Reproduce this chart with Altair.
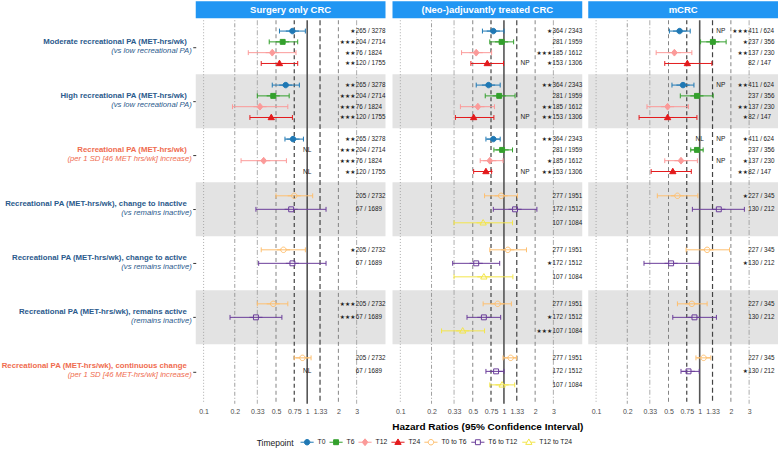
import altair as alt
import pandas as pd

FONT = "Liberation Sans"

PANELS = ["Surgery only CRC", "(Neo-)adjuvantly treated CRC", "mCRC"]
TIMEPOINTS = ["T0", "T6", "T12", "T24", "T0 to T6", "T6 to T12", "T12 to T24"]
TP_COLORS = ["#1f78b4", "#33a02c", "#fb9a99", "#e31a1c", "#fdbf6f", "#6a3d9a", "#f3e54a"]
TP_FILLED = [True, True, True, True, False, False, False]

GROUP_LINE1 = [
    "Moderate recreational PA (MET-hrs/wk)",
    "High recreational PA (MET-hrs/wk)",
    "Recreational PA (MET-hrs/wk)",
    "Recreational PA (MET-hrs/wk), change to inactive",
    "Recreational PA (MET-hrs/wk), change to active",
    "Recreational PA (MET-hrs/wk), remains active",
    "Recreational PA (MET-hrs/wk), continuous change",
]
GROUP_LINE2 = [
    "(vs low recreational PA)",
    "(vs low recreational PA)",
    "(per 1 SD [46 MET hrs/wk] increase)",
    "(vs remains inactive)",
    "(vs remains inactive)",
    "(remains inactive)",
    "(per 1 SD [46 MET-hrs/wk] increase)",
]
GROUP_KIND = ["cat", "cat", "cont", "cat", "cat", "cat", "cont"]
KIND_COLORS = {"cat": "#2b5a8c", "cont": "#ef6c4f"}

# Hazard ratios and 95% CI per panel -> group -> timepoint row
HR = [
    [[0.72, 0.58, 0.46, 0.54], [0.62, 0.47, 0.35, 0.45], [0.73, None, 0.38, None],
     [0.75, 0.70, None], [0.59, 0.72, None], [0.47, 0.32, None], [0.90, None, None]],
    [[0.79, 0.95, 0.54, 0.69], [0.71, 0.90, 0.56, 0.51], [0.79, 0.96, 0.73, 0.67],
     [0.94, 1.28, 0.63], [1.09, 0.54, 0.64], [0.87, 0.64, 0.40], [1.16, 0.84, 0.96]],
    [[0.64, 1.34, 0.57, 0.76], [0.69, 0.94, 0.49, 0.49], [None, 0.94, 0.66, 0.55],
     [0.61, 1.53, None], [1.18, 0.53, None], [0.84, 0.89, None], [1.09, 0.78, None]],
]
LO = [
    [[0.54, 0.43, 0.27, 0.36], [0.46, 0.33, 0.19, 0.28], [0.61, None, 0.23, None],
     [0.50, 0.32, None], [0.36, 0.34, None], [0.33, 0.18, None], [0.75, None, None]],
    [[0.62, 0.73, 0.39, 0.48], [0.54, 0.66, 0.38, 0.34], [0.67, 0.80, 0.59, 0.51],
     [0.65, 0.79, 0.33], [0.73, 0.32, 0.33], [0.63, 0.44, 0.25], [0.98, 0.67, 0.73]],
    [[0.51, 1.02, 0.38, 0.46], [0.54, 0.65, 0.31, 0.26], [None, 0.82, 0.46, 0.34],
     [0.39, 0.85, None], [0.74, 0.29, None], [0.61, 0.55, None], [0.92, 0.66, None]],
]
HI = [
    [[0.96, 0.81, 0.78, 0.81], [0.84, 0.67, 0.65, 0.72], [0.92, None, 0.63, None],
     [1.13, 1.52, None], [0.96, 1.52, None], [0.65, 0.57, None], [1.09, None, None]],
    [[1.00, 1.24, 0.76, 0.99], [0.92, 1.28, 0.81, 0.80], [0.92, 1.21, 0.98, 0.76],
     [1.35, 2.08, 1.21], [1.65, 0.91, 1.22], [1.18, 0.93, 0.65], [1.32, 1.00, 1.27]],
    [[0.81, 1.80, 0.84, 1.31], [0.88, 1.35, 0.78, 0.94], [None, 1.08, 0.95, 0.83],
     [0.96, 2.70, None], [1.94, 0.99, None], [1.18, 1.45, None], [1.28, 0.99, None]],
]
STARS = [
    [["★", "★★★", "★★", "★★"], ["★★", "★★★", "★★★", "★★★"], ["★★", "★★★", "★★★", "★★"],
     ["", "", ""], ["★", "", ""], ["★★★", "★★★", ""], ["", "", ""]],
    [["★", "", "★★★", "★"], ["★★", "", "★★", "★★"], ["★★", "", "★", "★★"],
     ["", "", ""], ["", "★", ""], ["", "★", "★★★"], ["", "", ""]],
    [["★★★", "★", "★★", ""], ["★★", "", "★★", "★"], ["★", "", "★", "★★"],
     ["★", "", ""], ["", "★", ""], ["", "", ""], ["", "★", ""]],
]
COUNTS_LEVEL = [
    ["265 / 3278", "204 / 2714", "76 / 1824", "120 / 1755"],
    ["364 / 2343", "281 / 1959", "185 / 1612", "153 / 1306"],
    ["411 / 624", "237 / 356", "137 / 230", "82 / 147"],
]
COUNTS_CHANGE = [
    ["205 / 2732", "67 / 1689", ""],
    ["277 / 1951", "172 / 1512", "107 / 1084"],
    ["227 / 345", "130 / 212", ""],
]
# (panel, group, row) flagged as non-linear / non-proportional
NL_ROWS = [(0, 2, 1), (0, 2, 3), (0, 6, 1), (2, 2, 0)]
NP_ROWS = [(1, 0, 3), (1, 1, 3), (1, 2, 3), (2, 0, 0), (2, 1, 0), (2, 2, 0), (2, 2, 2)]

TICKS = [0.1, 0.2, 0.33, 0.5, 0.75, 1, 1.33, 2, 3]
REF_DASH = [[1, 2], [1, 2, 4, 2], [5, 2, 1, 2], [4, 3], [4, 3], [1, 0], [5, 3], [4, 3], [5, 2, 1, 2]]
REF_COLOR = ["#999999", "#888888", "#999999", "#777777", "#444444", "#555555", "#444444", "#777777", "#999999"]
REF_WIDTH = [0.8, 0.8, 0.8, 0.9, 1.2, 1.6, 1.2, 0.9, 0.8]

X_TITLE = "Hazard Ratios (95% Confidence Interval)"

LABEL_W = 192
PANEL_W = 190
H = 384
N_GROUPS = 7
CAP = 0.045

rows = []
for p, panel in enumerate(PANELS):
    for g in range(N_GROUPS):
        tps = TIMEPOINTS[:4] if g < 3 else TIMEPOINTS[4:]
        counts = COUNTS_LEVEL[p] if g < 3 else COUNTS_CHANGE[p]
        n = len(tps)
        for k, tp in enumerate(tps):
            yv = g + (k + 1) / (n + 1)
            rows.append(dict(
                panel=panel, group=g, tp=tp, y=yv, y_top=yv - CAP, y_bot=yv + CAP,
                hr=HR[p][g][k], lo=LO[p][g][k], hi=HI[p][g][k],
                stars=STARS[p][g][k], n=counts[k],
                nl="NL" if (p, g, k) in NL_ROWS else "",
                np="NP" if (p, g, k) in NP_ROWS else "",
            ))
df = pd.DataFrame(rows)

shade_df = pd.DataFrame({"y0": [1, 3, 5], "y1": [2, 4, 6]})
ref_df = pd.DataFrame({"v": TICKS, "key": [str(t) for t in TICKS],
                       "col": REF_COLOR, "w": REF_WIDTH})

# Marker glyphs with a short horizontal stroke so the legend keys read as interval markers
P_CIRCLE = "M1,0A1,1,0,1,1,-1,0A1,1,0,1,1,1,0Z M-2.4,0H-1M1,0H2.4"
P_SQUARE = "M-0.9,-0.9H0.9V0.9H-0.9Z M-2.4,0H-0.9M0.9,0H2.4"
P_DIAMOND = "M0,-1.25L1.05,0L0,1.25L-1.05,0Z M-2.4,0H-1.05M1.05,0H2.4"
P_TRIANGLE = "M0,-1.2L1.15,0.8L-1.15,0.8Z M-2.4,0H-0.7M0.7,0H2.4"
TP_SHAPES = [P_CIRCLE, P_SQUARE, P_DIAMOND, P_TRIANGLE, P_CIRCLE, P_SQUARE, P_TRIANGLE]

legend = alt.Legend(
    title="Timepoint", orient="none", legendX=257, legendY=419, direction="horizontal",
    titleOrient="left", titleFontSize=8.5, titleFontWeight="normal", titleColor="#1a1a1a",
    titleFont=FONT, labelFont=FONT, labelFontSize=6.8, labelColor="#1a1a1a",
    symbolSize=30, symbolStrokeWidth=1, labelOffset=7, columnPadding=1, titlePadding=9,
    gridAlign="none",
)
stroke_enc = alt.Stroke("tp:N", scale=alt.Scale(domain=TIMEPOINTS, range=TP_COLORS), legend=legend)
fill_enc = alt.Fill("tp:N", scale=alt.Scale(
    domain=TIMEPOINTS, range=[c if f else "transparent" for c, f in zip(TP_COLORS, TP_FILLED)]), legend=legend)
shape_enc = alt.Shape("tp:N", scale=alt.Scale(domain=TIMEPOINTS, range=TP_SHAPES), legend=legend)

xs = alt.Scale(type="log", domain=[0.084, 5.7], nice=False)
ys = alt.Scale(domain=[0, 7.1], reverse=True, nice=False, zero=False)


def panel_chart(p):
    d = df[df.panel == PANELS[p]]
    ax_kw = dict(values=TICKS, format="~g", grid=False, domain=False, ticks=False,
                 labelFontSize=7, labelColor="#4d4d4d", labelPadding=4, labelFont=FONT,
                 titleFontSize=10, titleFontWeight="bold", titleColor="#000000",
                 titlePadding=7, titleFont=FONT)
    ax_kw["title"] = X_TITLE if p == 1 else None
    x_axis = alt.Axis(**ax_kw)
    if p == 0:
        y_axis = alt.Axis(values=[g + 0.5 for g in range(N_GROUPS)], labels=False, domain=False,
                          grid=False, ticks=True, tickSize=3, tickColor="#333333",
                          title=None, minExtent=3, maxExtent=3)
    else:
        y_axis = None

    def X(field):
        return alt.X(field, scale=xs, axis=x_axis)

    def Y(field):
        return alt.Y(field, scale=ys, axis=y_axis)

    shading = alt.Chart(shade_df).mark_rect(color="#e3e3e3").encode(
        y=Y("y0:Q"), y2="y1:Q", x=alt.value(0), x2=alt.value(PANEL_W))

    refs = alt.Chart(ref_df).mark_rule().encode(
        x=X("v:Q"),
        color=alt.Color("col:N", scale=None),
        strokeWidth=alt.StrokeWidth("w:Q", scale=None),
        strokeDash=alt.StrokeDash("key:N", scale=alt.Scale(domain=[str(t) for t in TICKS], range=REF_DASH),
                                  legend=None),
    )

    pts = alt.Chart(d).transform_filter("isValid(datum.hr)")
    bars = pts.mark_rule(strokeWidth=1).encode(x=X("lo:Q"), x2="hi:Q", y=Y("y:Q"), stroke=stroke_enc)
    cap_lo = pts.mark_rule(strokeWidth=1).encode(x=X("lo:Q"), y=Y("y_top:Q"), y2="y_bot:Q", stroke=stroke_enc)
    cap_hi = pts.mark_rule(strokeWidth=1).encode(x=X("hi:Q"), y=Y("y_top:Q"), y2="y_bot:Q", stroke=stroke_enc)
    points = pts.mark_point(size=30, opacity=1, strokeWidth=1).encode(
        x=X("hr:Q"), y=Y("y:Q"), shape=shape_enc, fill=fill_enc, stroke=stroke_enc)

    txt = alt.Chart(d)
    counts = txt.transform_filter("datum.n != ''").mark_text(
        align="left", baseline="middle", fontSize=6.3, font=FONT, color="#1a1a1a"
    ).encode(x=alt.X(datum=2.95, scale=xs, axis=x_axis), y=Y("y:Q"), text="n:N")
    stars = txt.transform_filter("datum.stars != ''").mark_text(
        align="right", baseline="middle", fontSize=5.8, font="DejaVu Sans", color="#1a1a1a", dx=-0.5
    ).encode(x=alt.X(datum=2.95, scale=xs, axis=x_axis), y=Y("y:Q"), text="stars:N")
    nl = txt.transform_filter("datum.nl != ''").mark_text(
        align="center", baseline="middle", fontSize=6.5, font=FONT, color="#1a1a1a"
    ).encode(x=alt.X(datum=1, scale=xs, axis=x_axis), y=Y("y:Q"), text="nl:N")
    np_ = txt.transform_filter("datum.np != ''").mark_text(
        align="center", baseline="middle", fontSize=6.5, font=FONT, color="#1a1a1a"
    ).encode(x=alt.X(datum=1.6, scale=xs, axis=x_axis), y=Y("y:Q"), text="np:N")

    strip_df = pd.DataFrame({"name": [PANELS[p]]})
    strip = alt.Chart(strip_df).mark_rect(color="#2196f3").encode(
        x=alt.value(0), x2=alt.value(PANEL_W), y=alt.value(-19), y2=alt.value(-2))
    strip_txt = alt.Chart(strip_df).mark_text(
        color="white", fontWeight="bold", fontSize=9.5, font=FONT, baseline="middle"
    ).encode(x=alt.value(PANEL_W / 2), y=alt.value(-10.5), text="name:N")

    return alt.layer(shading, refs, bars, cap_lo, cap_hi, points, counts, stars, nl, np_,
                     strip, strip_txt).properties(width=PANEL_W, height=H)


label_df = pd.DataFrame({
    "yc": [g + 0.5 for g in range(N_GROUPS)],
    "l1": GROUP_LINE1, "l2": GROUP_LINE2,
    "col": [KIND_COLORS[k] for k in GROUP_KIND],
})
lbl = alt.Chart(label_df)
line1 = lbl.mark_text(align="right", baseline="middle", fontSize=7.8, fontWeight="bold",
                      font=FONT, dy=-5.5).encode(
    x=alt.value(LABEL_W - 5), y=alt.Y("yc:Q", scale=ys, axis=None),
    text="l1:N", color=alt.Color("col:N", scale=None))
line2 = lbl.mark_text(align="right", baseline="middle", fontSize=7.7, fontStyle="italic",
                      font=FONT, dy=3.8).encode(
    x=alt.value(LABEL_W), y=alt.Y("yc:Q", scale=ys, axis=None),
    text="l2:N", color=alt.Color("col:N", scale=None))
labels = alt.layer(line1, line2).properties(width=LABEL_W, height=H)

panels = alt.hconcat(*[panel_chart(p) for p in range(3)], spacing=5)
chart = alt.hconcat(labels, panels, spacing=0).properties(
    padding={"left": 0, "top": 1, "right": 2, "bottom": 0}, background="white"
).resolve_scale(stroke="shared", fill="shared", shape="shared").configure_view(stroke=None)

chart.save("out.html", embed_options={"renderer": "svg", "actions": False})
